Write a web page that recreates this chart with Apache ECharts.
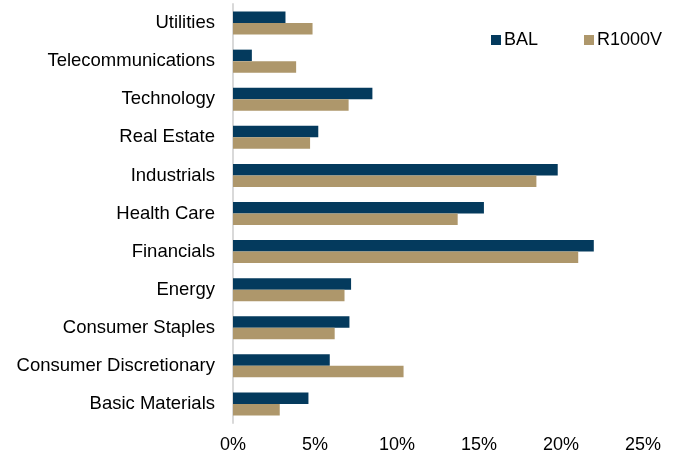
<!DOCTYPE html>
<html>
<head>
<meta charset="utf-8">
<script src="https://cdn.jsdelivr.net/npm/echarts@6/dist/echarts.min.js"></script>
<style>
  html, body { margin: 0; padding: 0; background: #fff; }
  #chart { width: 678px; height: 454px; }
</style>
</head>
<body>
<div id="chart"></div>
<script>
// sectors, listed top to bottom
var sectors = ['Utilities', 'Telecommunications', 'Technology', 'Real Estate',
  'Industrials', 'Health Care', 'Financials', 'Energy', 'Consumer Staples',
  'Consumer Discretionary', 'Basic Materials'];
var bal = [3.2, 1.15, 8.5, 5.2, 19.8, 15.3, 22.0, 7.2, 7.1, 5.9, 4.6];
var r1000v = [4.85, 3.85, 7.05, 4.7, 18.5, 13.7, 21.05, 6.8, 6.2, 10.4, 2.85];
var xTicks = [0, 5, 10, 15, 20, 25];

var box = echarts.init(document.getElementById('chart'));
var font = 'Liberation Sans, Arial, sans-serif';

var option = {
  animation: false,
  textStyle: { fontFamily: font },
  legend: {
    data: ['BAL', 'R1000V'],
    left: 486,
    top: 26,
    icon: 'rect',
    itemWidth: 10,
    itemHeight: 10,
    itemGap: 46,
    textStyle: { fontSize: 18, color: '#000', fontFamily: font, padding: [0, 0, 0, -2] }
  },
  grid: { left: 233, right: 35, top: 4, bottom: 31, containLabel: false },
  xAxis: {
    type: 'value',
    min: xTicks[0],
    max: xTicks[xTicks.length - 1],
    interval: 5,
    axisLine: { show: false },
    axisTick: { show: false },
    splitLine: { show: false },
    axisLabel: {
      formatter: '{value}%',
      fontSize: 18,
      color: '#000',
      margin: 13
    }
  },
  yAxis: {
    type: 'category',
    inverse: true,
    data: sectors,
    axisLine: { show: true, lineStyle: { color: '#d9d9d9', width: 2 } },
    axisTick: { show: false },
    axisLabel: { fontSize: 18.5, color: '#000', margin: 18 }
  },
  series: [
    {
      name: 'BAL',
      type: 'bar',
      data: bal,
      barWidth: 11.5,
      barGap: '0%',
      itemStyle: { color: '#043a5d' }
    },
    {
      name: 'R1000V',
      type: 'bar',
      data: r1000v,
      barWidth: 11.5,
      barGap: '0%',
      itemStyle: { color: '#ae976b' }
    }
  ]
};

box.setOption(option);
</script>
</body>
</html>
